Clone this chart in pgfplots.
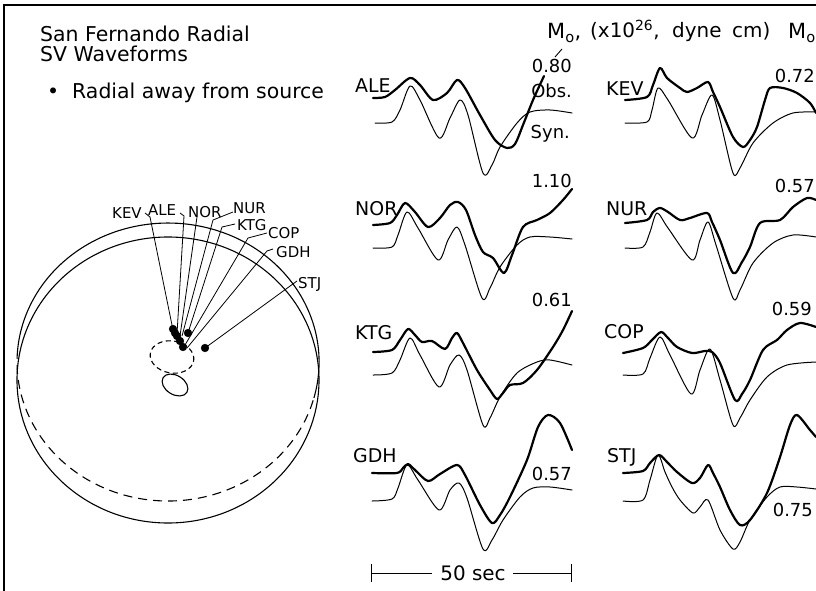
\documentclass[border=0pt]{standalone}
\usepackage{pgfplots}
\pgfplotsset{compat=1.18}
\usepackage{fontspec}
\setmainfont{DejaVu Sans}
\newcommand{\fs}[1]{\fontsize{#1}{#1}\selectfont}
\begin{document}
\begin{tikzpicture}[every node/.append style={inner sep=0pt}]
\begin{axis}[scale only axis, width=816bp, height=591bp,
  xmin=0, xmax=816, ymin=0, ymax=591, y dir=reverse, hide axis,
  clip=true, clip mode=individual,
  obs/.style={black, line width=2.2bp, smooth, line join=round, line cap=round},
  syn/.style={black, line width=1.0bp, smooth, line join=round, line cap=round},
  lead/.style={black, line width=0.8bp}]
% frame
\addplot[black, line width=1.6bp] coordinates {(4,591) (4,5) (816,5)};
% ---- titles
\node[anchor=base west, font=\fs{20.5}] at (axis cs:40,42) {San Fernando Radial};
\node[anchor=base west, font=\fs{20.5}] at (axis cs:40,62) {SV Waveforms};
\node[anchor=base west, font=\fs{20.5}] at (axis cs:47,98) {\textbullet\ \ Radial away from source};
% ---- map
\draw[black, line width=1.1bp] (axis cs:313.9,398) arc[start angle=-15, end angle=175, x radius=151bp, y radius=139bp];
\draw[black, line width=1.1bp, dash pattern=on 9bp off 6bp] (axis cs:17.6,349.9) arc[start angle=175, end angle=345, x radius=151bp, y radius=139bp];
\draw[black, line width=1.1bp] (axis cs:168,380) ellipse[x radius=151bp, y radius=143bp];
\draw[black, line width=1.1bp, dash pattern=on 5bp off 3.5bp] (axis cs:172,357) ellipse[x radius=22bp, y radius=16bp, rotate=-10];
\draw[black, line width=1.1bp] (axis cs:175,385) ellipse[x radius=14bp, y radius=9.5bp, rotate=-32];
% leader lines
\addplot[lead] coordinates {(145,213) (150,217) (173,330)};
\addplot[lead] coordinates {(180,213) (184,216) (177,334)};
\addplot[lead] coordinates {(197,217) (180,336)};
\addplot[lead] coordinates {(233,212) (213,220) (182,336)};
\addplot[lead] coordinates {(235,224) (222,227) (187,336)};
\addplot[lead] coordinates {(267,233) (248,238) (185,345)};
\addplot[lead] coordinates {(273,249) (267,251) (187,348)};
\addplot[lead] coordinates {(297,281) (205,348)};
\addplot[only marks, mark=*, mark size=3.9bp, black] coordinates {
 (173,329) (177,336) (188,333) (180,341) (183,347) (175,333) (205,348)};
\node[anchor=base west, font=\fs{15}] at (axis cs:112,218) {KEV};
\node[anchor=base west, font=\fs{15}] at (axis cs:148,215) {ALE};
\node[anchor=base west, font=\fs{15}] at (axis cs:188,217) {NOR};
\node[anchor=base west, font=\fs{15}] at (axis cs:233,213) {NUR};
\node[anchor=base west, font=\fs{15}] at (axis cs:237,230) {KTG};
\node[anchor=base west, font=\fs{15}] at (axis cs:268,238) {COP};
\node[anchor=base west, font=\fs{15}] at (axis cs:276,257) {GDH};
\node[anchor=base west, font=\fs{15}] at (axis cs:298,288) {STJ};
% ---- header
\node[anchor=base west, font=\fs{21}] at (axis cs:547,39) {M\textsubscript{o},};
\node[anchor=base west, font=\fs{20}] at (axis cs:590,38) {(x10\textsuperscript{26},};
\node[anchor=base west, font=\fs{20}] at (axis cs:672,38) {dyne};
\node[anchor=base west, font=\fs{20}] at (axis cs:732,38) {cm)};
\node[anchor=base west, font=\fs{21}] at (axis cs:788,39) {M\textsubscript{o}};
\addplot[black, line width=0.9bp] coordinates {(555,57) (562,49)};
% ---- waveform labels
\node[anchor=base west, font=\fs{19}] at (axis cs:355,92) {ALE};
\node[anchor=base west, font=\fs{19}] at (axis cs:355,215) {NOR};
\node[anchor=base west, font=\fs{19}] at (axis cs:355,339) {KTG};
\node[anchor=base west, font=\fs{19}] at (axis cs:353,462) {GDH};
\node[anchor=base west, font=\fs{19}] at (axis cs:606,95) {KEV};
\node[anchor=base west, font=\fs{19}] at (axis cs:606,215) {NUR};
\node[anchor=base west, font=\fs{19}] at (axis cs:604,338) {COP};
\node[anchor=base west, font=\fs{19}] at (axis cs:607,462) {STJ};
\node[anchor=base east, font=\fs{18}] at (axis cs:572,73) {0.80};
\node[anchor=base east, font=\fs{18}] at (axis cs:572,97) {Obs.};
\node[anchor=base east, font=\fs{18}] at (axis cs:570,138) {Syn.};
\node[anchor=base east, font=\fs{18}] at (axis cs:572,187) {1.10};
\node[anchor=base east, font=\fs{18}] at (axis cs:572,306) {0.61};
\node[anchor=base east, font=\fs{18}] at (axis cs:572,480) {0.57};
\node[anchor=base east, font=\fs{18}] at (axis cs:815,83) {0.72};
\node[anchor=base east, font=\fs{18}] at (axis cs:815,192) {0.57};
\node[anchor=base east, font=\fs{18}] at (axis cs:812,315) {0.59};
\node[anchor=base east, font=\fs{18}] at (axis cs:813,516) {0.75};
% ---- scale bar
\addplot[black, line width=1.0bp] coordinates {(371,573) (432,573)};
\addplot[black, line width=1.0bp] coordinates {(513,573) (571,573)};
\addplot[black, line width=1.0bp] coordinates {(371,564) (371,582)};
\addplot[black, line width=1.0bp] coordinates {(571,564) (571,582)};
\node[font=\fs{20}] at (axis cs:473,573) {50 sec};
% ---- ALE
\addplot[obs] coordinates {(373,98)(385,97)(395,90)(410,78)(420,85)(433,100)(447,93)(457,80)(465,88)(480,115)(495,140)(507,148)(515,144)(523,125)(533,100)(544,76)};
\addplot[syn] coordinates {(375,123)(392,122)(400,110)(410,86)(420,100)(439,138)(450,118)(460,100)(468,115)(483,173)(492,165)(500,147)(517,123)(530,112)(550,110)(572,113)};
% ---- NOR
\addplot[obs] coordinates {(373,225)(390,223)(397,215)(405,203)(415,212)(428,227)(440,218)(450,205)(458,202)(466,210)(475,235)(483,252)(493,258)(504,273)(512,255)(523,227)(537,220)(550,213)(563,200)(572,189)};
\addplot[syn] coordinates {(373,248)(392,247)(398,235)(407,212)(418,228)(438,260)(448,240)(457,227)(465,245)(482,298)(490,288)(500,267)(517,245)(530,237)(550,237)(572,239)};
% ---- KTG
\addplot[obs] coordinates {(373,352)(392,350)(400,340)(408,329)(415,335)(422,342)(432,341)(445,349)(452,338)(457,333)(463,343)(477,370)(490,390)(497,399)(503,393)(510,385)(523,383)(537,370)(553,347)(563,330)(572,311)};
\addplot[syn] coordinates {(373,375)(392,373)(400,360)(410,338)(420,355)(439,387)(450,365)(459,355)(467,370)(483,425)(490,418)(500,397)(517,373)(537,362)(550,360)(572,365)};
% ---- GDH
\addplot[obs] coordinates {(372,473)(397,473)(403,468)(408,464)(415,470)(428,481)(440,474)(457,465)(465,475)(480,505)(492,523)(500,515)(510,497)(527,460)(538,427)(548,415)(560,423)(572,450)};
\addplot[syn] coordinates {(372,501)(392,499)(398,488)(407,465)(418,480)(439,510)(450,490)(459,483)(467,498)(483,549)(492,540)(503,520)(520,497)(533,488)(550,487)(572,490)};
% ---- KEV
\addplot[obs] coordinates {(625,100)(647,97)(653,85)(660,68)(667,78)(680,88)(687,92)(697,88)(708,82)(713,92)(720,107)(733,137)(743,147)(750,140)(757,127)(765,100)(770,88)(783,88)(797,93)(810,103)(816,113)};
\addplot[syn] coordinates {(625,123)(647,122)(652,110)(658,88)(668,100)(692,138)(702,115)(712,95)(720,120)(733,173)(740,168)(753,143)(773,123)(793,113)(816,112)};
% ---- NUR
\addplot[obs] coordinates {(625,223)(647,220)(653,212)(660,208)(668,212)(680,220)(690,218)(707,213)(712,222)(720,240)(733,273)(742,262)(750,247)(760,223)(780,220)(793,207)(807,198)(816,200)};
\addplot[syn] coordinates {(625,248)(643,247)(650,232)(657,213)(668,228)(692,260)(700,240)(708,222)(716,245)(733,298)(740,290)(753,263)(773,243)(793,235)(816,237)};
% ---- COP
\addplot[obs] coordinates {(623,353)(643,348)(652,340)(661,332)(668,338)(677,347)(692,353)(705,351)(712,352)(720,363)(735,400)(742,394)(750,380)(763,350)(777,340)(787,330)(800,323)(816,327)};
\addplot[syn] coordinates {(623,375)(643,374)(650,358)(660,337)(670,355)(691,394)(700,370)(710,349)(720,380)(733,425)(740,418)(750,400)(767,377)(787,365)(816,362)};
% ---- STJ
\addplot[obs] coordinates {(623,473)(643,471)(650,463)(659,455)(667,462)(677,472)(692,483)(700,478)(708,465)(713,473)(720,487)(730,510)(740,525)(750,520)(767,493)(780,457)(790,425)(797,415)(810,430)(816,437)};
\addplot[syn] coordinates {(623,501)(643,500)(650,480)(658,455)(665,472)(672,487)(680,500)(693,513)(700,507)(708,500)(720,530)(733,549)(740,542)(750,520)(767,497)(780,487)(797,487)(816,489)};
\end{axis}
\pgfresetboundingbox
\path[use as bounding box] (current axis.south west) rectangle (current axis.north east);
\end{tikzpicture}
\end{document}
